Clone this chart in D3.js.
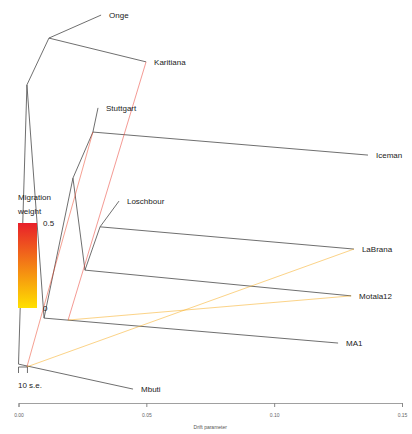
<!DOCTYPE html>
<html><head><meta charset="utf-8">
<script src="https://cdn.jsdelivr.net/npm/d3@7"></script>
<style>body{margin:0;background:#fff}svg{display:block}text{font-family:"Liberation Sans",Arial,sans-serif}</style>
</head><body>
<svg id="c" width="412" height="434"></svg>
<script>
// Tree nodes: id, drift (x), layout position (y)
const nodeIds   = ["R","A","B","Onge","Karitiana","C","MA1","G","H","Stuttgart","Iceman","E","F","Loschbour","LaBrana","Motala12","Mbuti"];
const nodeDrift = [0.0000,0.0033,0.0119,0.0323,0.0499,0.0100,0.1250,0.0213,0.0291,0.0311,0.1367,0.0260,0.0319,0.0393,0.1312,0.1301,0.0448];
const nodeY     = [0.092,0.808,0.928,0.987,0.867,0.210,0.146,0.569,0.687,0.749,0.628,0.333,0.444,0.510,0.387,0.267,0.028];
const leaves    = ["Onge","Karitiana","MA1","Stuttgart","Iceman","Loschbour","LaBrana","Motala12","Mbuti"];
// Tree edges parent -> child
const edgeFrom = ["R","R","A","B","B","A","C","C","G","H","H","G","E","F","F","E"];
const edgeTo   = ["Mbuti","A","B","Onge","Karitiana","C","MA1","G","H","Stuttgart","Iceman","E","F","Loschbour","LaBrana","Motala12"];
// Migration edges (start drift/y, end drift/y, weight)
const migX1 = [0.0499,0.0291,0.0033,0.0194];
const migY1 = [0.867,0.687,0.085,0.205];
const migX2 = [0.0194,0.0033,0.1312,0.1301];
const migY2 = [0.205,0.085,0.387,0.267];
const migW  = [0.45,0.42,0.15,0.15];
const xTicks = [0,0.05,0.10,0.15];
const xTickLabels = ["0.00","0.05","0.10","0.15"];
const legendTicks = [0.5,0];
const seValue = 0.0035; // 10 s.e. in drift units

const svg = d3.select("#c");
const x = d3.scaleLinear().domain([0,0.15]).range([18.5,402]);
const y = d3.scaleLinear().domain([0,1]).range([400,10]);
const col = d3.scaleLinear().domain([0,0.5]).range(["#ffe000","#e8202a"]).interpolate(d3.interpolateRgb);

const nodes = {};
nodeIds.forEach((id,i)=>nodes[id]={x:nodeDrift[i],y:nodeY[i]});

svg.append("g").selectAll("line").data(edgeFrom.map((f,i)=>[f,edgeTo[i]])).join("line")
  .attr("x1",d=>x(nodes[d[0]].x)).attr("y1",d=>y(nodes[d[0]].y))
  .attr("x2",d=>x(nodes[d[1]].x)).attr("y2",d=>y(nodes[d[1]].y))
  .attr("stroke","#4a4a4a").attr("stroke-width",0.8);

svg.append("g").selectAll("line").data(migW.map((w,i)=>i)).join("line")
  .attr("x1",i=>x(migX1[i])).attr("y1",i=>y(migY1[i]))
  .attr("x2",i=>x(migX2[i])).attr("y2",i=>y(migY2[i]))
  .attr("stroke",i=>col(migW[i])).attr("stroke-width",0.7).attr("opacity",0.7);

svg.append("g").selectAll("text").data(leaves).join("text")
  .attr("x",d=>x(nodes[d].x)+8).attr("y",d=>y(nodes[d].y)).attr("dy","0.35em")
  .attr("font-size",8).attr("fill","#222").text(d=>d);

// Axis
const ax = svg.append("g").attr("transform","translate(0,403)")
  .call(d3.axisBottom(x).tickValues(xTicks).tickFormat((d,i)=>xTickLabels[i]).tickSize(4).tickPadding(6));
ax.select(".domain").attr("stroke","#888").attr("stroke-width",0.8);
ax.selectAll(".tick line").attr("stroke","#888");
ax.selectAll(".tick text").attr("font-size",5).attr("fill","#666").attr("font-family","Liberation Sans, Arial, sans-serif");
svg.append("text").attr("x",x(0.075)).attr("y",429).attr("text-anchor","middle")
  .attr("font-size",5).attr("fill","#555").text("Drift parameter");

// Legend
const defs = svg.append("defs");
const gr = defs.append("linearGradient").attr("id","g1").attr("x1",0).attr("y1",0).attr("x2",0).attr("y2",1);
gr.append("stop").attr("offset","0%").attr("stop-color",col(0.5));
gr.append("stop").attr("offset","100%").attr("stop-color",col(0));
const ly = d3.scaleLinear().domain([0,0.5]).range([308,223]);
svg.append("rect").attr("x",18).attr("y",ly(0.5)).attr("width",19).attr("height",ly(0)-ly(0.5)).attr("fill","url(#g1)");
svg.selectAll(".lt").data(legendTicks).join("text").attr("class","lt")
  .attr("x",43).attr("y",d=>ly(d)).attr("dy","0.35em").attr("font-size",8).attr("fill","#222").text(d=>d===0?"0":d);
svg.append("text").attr("x",18).attr("y",200).attr("font-size",8).attr("fill","#222").text("Migration");
svg.append("text").attr("x",18).attr("y",214).attr("font-size",8).attr("fill","#222").text("weight");

// s.e. scale bar
const seY = 367;
svg.append("line").attr("x1",x(0)).attr("x2",x(seValue)).attr("y1",seY).attr("y2",seY).attr("stroke","#4a4a4a").attr("stroke-width",0.8);
[0,seValue].forEach(v=>svg.append("line").attr("x1",x(v)).attr("x2",x(v)).attr("y1",seY).attr("y2",seY+6).attr("stroke","#4a4a4a").attr("stroke-width",0.8));
svg.append("text").attr("x",18).attr("y",388).attr("font-size",8).attr("fill","#222").text("10 s.e.");
</script>
</body></html>
